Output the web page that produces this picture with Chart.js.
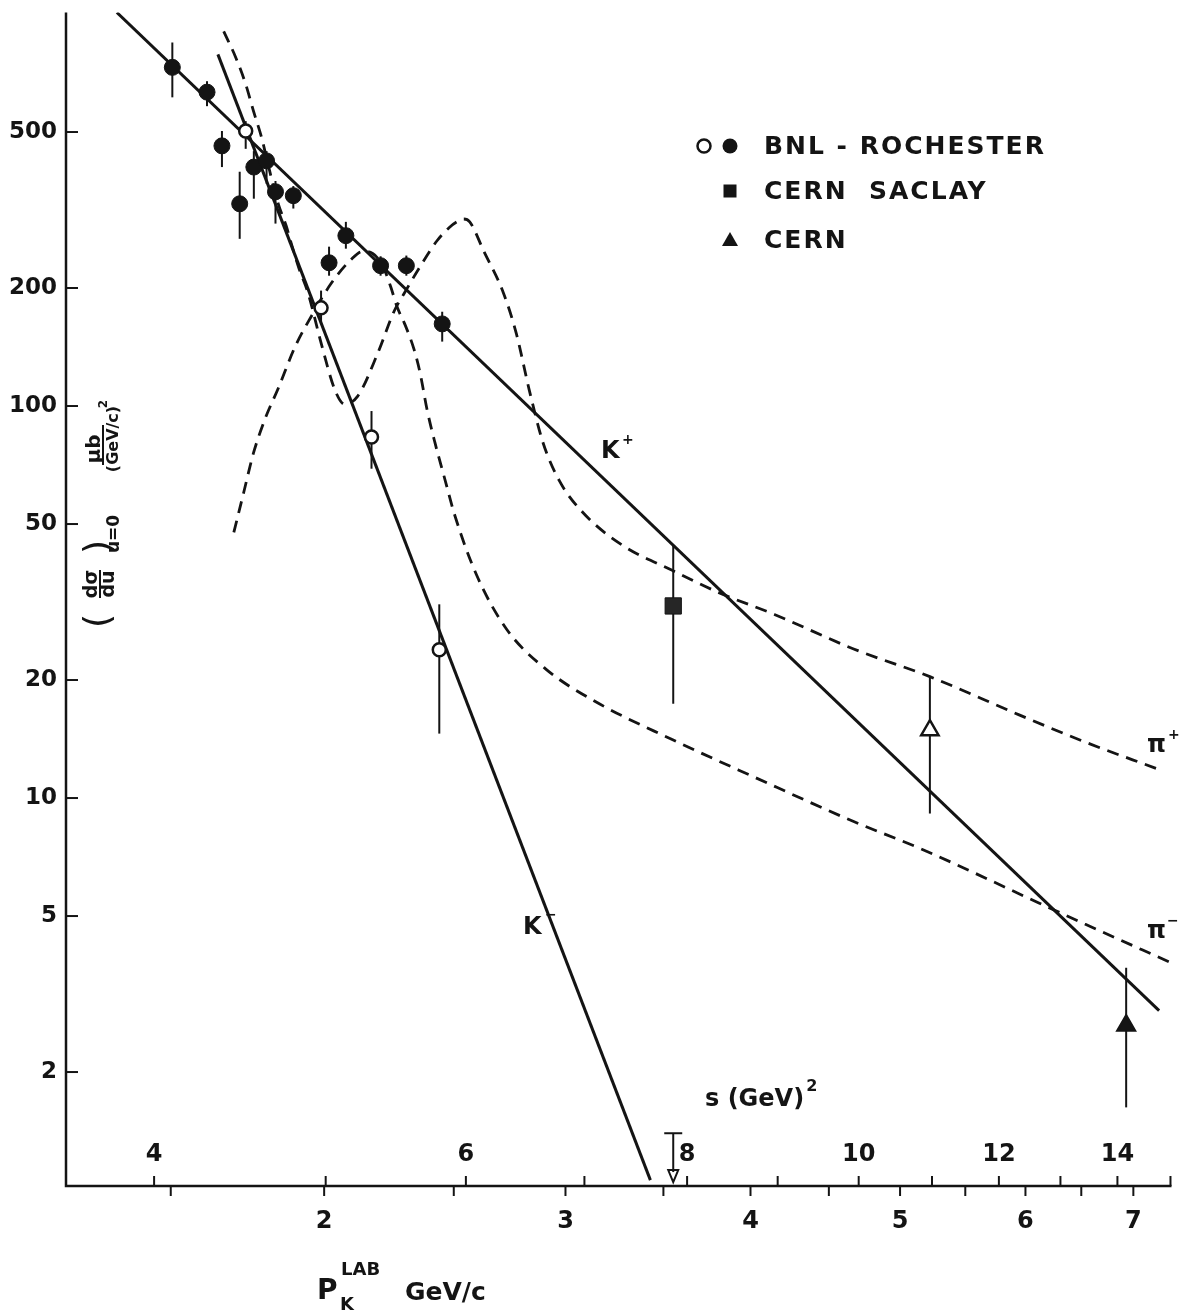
<!DOCTYPE html>
<html>
<head>
<meta charset="utf-8">
<script src="https://cdn.jsdelivr.net/npm/chart.js@4.4.1/dist/chart.umd.min.js"></script>
<style>
html,body{margin:0;padding:0;background:#fff;}
#wrap{width:1184px;height:1314px;position:relative;}
canvas{display:block;}
</style>
</head>
<body>
<div id="wrap"><canvas id="c" width="1184" height="1314"></canvas></div>
<script>
// ---------- values (x in s = (GeV)^2, y in microbarn/(GeV/c)^2) ----------
const kPlusLineS  = [3.811, 14.78];
const kPlusLineV  = [1009, 2.87];
const kMinusLineS = [4.346, 7.627];
const kMinusLineV = [789, 1.06];

const piPlusS = [4.379,4.448,4.506,4.552,4.599,4.653,4.701,4.750,4.781,4.830,4.887,4.970,5.060,5.126,5.213,5.349,5.467,5.538,5.654,5.779,5.870,5.930,5.984,6.030,6.140,6.301,6.407,6.515,6.634,6.775,6.986,7.357,7.846,8.327,8.962,9.935,10.97,12.32,13.42,14.72];
const piPlusV = [903,775,662,565,486,391,328,288,260,224,194,145,110,101,106,136,175,194,227,264,285,295,300,295,249,194,153,110,80.5,64.5,53.5,44.1,38.1,33.5,29.4,24.0,20.4,16.3,13.9,11.9];

const piMinusS = [4.437,4.494,4.552,4.623,4.701,4.806,4.906,5.034,5.166,5.247,5.315,5.384,5.440,5.489,5.538,5.610,5.654,5.705,5.764,5.831,5.915,6.085,6.325,6.660,7.104,7.846,8.733,9.935,10.83,12.64,13.42,15.01];
const piMinusV = [47.6,60.1,75.9,93.2,111,142,169,205,236,248,245,228,202,178,163,139,121,97.7,80.5,66.4,52.5,37.0,27.0,21.3,17.6,14.1,11.3,8.71,7.44,5.40,4.77,3.80];

const bnlFilledS  = [4.096,4.285,4.369,4.471,4.554,4.630,4.684,4.794,5.022,5.133,5.370,5.553,5.818];
const bnlFilledV  = [731,632,461,328,407,422,352,344,232,272,228,228,162];
const bnlFilledLo = [613,582,407,267,338,369,292,319,215,252,215,215,146];
const bnlFilledHi = [846,674,503,396,447,447,375,364,255,295,241,242,174];

const bnlOpenS  = [4.506,4.970,5.307,5.796];
const bnlOpenV  = [503,178,83.4,23.9];
const bnlOpenLo = [453,164,69.2,14.6];
const bnlOpenHi = [533,197,97.1,31.2];

const saclayS  = [7.857];
const saclayV  = [30.9];
const saclayLo = [17.4];
const saclayHi = [44.1];

const cernS  = [10.97,14.16];
const cernV  = [14.9,2.63];
const cernLo = [9.13,1.625];
const cernHi = [20.4,3.69];

const limitS = [7.857];      // downward arrow near the axis
const limitTop = [1.396];
const limitTip = [1.048];

const yTickValues  = [2,5,10,20,50,100,200,500];
const pTickValues  = [1.5,2,2.5,3,3.5,4,4.5,5,5.5,6,6.5,7];
const pTickLabels  = [2,3,4,5,6,7];
const sTickValues  = [4,5,6,7,8,9,10,11,12,13,14,15];
const sTickLabels  = [4,6,8,10,12,14];

const legendLabels = ['BNL - ROCHESTER','CERN  SACLAY','CERN'];

// kinematics: s as a function of kaon lab momentum (K p)
const mK = 0.4937, mP = 0.9383;
const sOfP = p => mK*mK + mP*mP + 2*mP*Math.sqrt(p*p + mK*mK);

const pts = (xs, ys) => xs.map((x,i) => ({x, y: ys[i]}));
const ink = '#141414';
const F = '"DejaVu Sans", sans-serif';

function line(ctx,x1,y1,x2,y2){ctx.beginPath();ctx.moveTo(x1,y1);ctx.lineTo(x2,y2);ctx.stroke();}
function txt(ctx,s,x,y,font,align){ctx.font=font;ctx.textAlign=align||'center';ctx.textBaseline='middle';ctx.fillText(s,x,y);}
function rtxt(ctx,s,x,y,font){ctx.save();ctx.translate(x,y);ctx.rotate(-Math.PI/2);ctx.font=font;ctx.textAlign='center';ctx.textBaseline='middle';ctx.fillText(s,0,0);ctx.restore();}

const deco = {
  id:'deco',
  beforeDatasetsDraw(chart){
    const {ctx, scales:{x:xs, y:ys}} = chart;
    ctx.save();
    ctx.strokeStyle = ink; ctx.lineWidth = 2;
    const bars = (S,Lo,Hi) => S.forEach((s,i)=>{
      const x = xs.getPixelForValue(s);
      line(ctx,x,ys.getPixelForValue(Lo[i]),x,ys.getPixelForValue(Hi[i]));
    });
    bars(bnlFilledS,bnlFilledLo,bnlFilledHi);
    bars(bnlOpenS,bnlOpenLo,bnlOpenHi);
    bars(saclayS,saclayLo,saclayHi);
    bars(cernS,cernLo,cernHi);
    ctx.restore();
  },
  afterDraw(chart){
    const {ctx, chartArea:a, scales:{x:xs, y:ys}} = chart;
    ctx.save();
    ctx.strokeStyle = ink; ctx.fillStyle = ink;
    // axes
    ctx.lineWidth = 2.5;
    ctx.beginPath(); ctx.moveTo(a.left,a.top); ctx.lineTo(a.left,a.bottom); ctx.lineTo(a.right,a.bottom); ctx.stroke();
    ctx.lineWidth = 2;
    yTickValues.forEach(v=>{
      const y = ys.getPixelForValue(v);
      line(ctx,a.left,y,a.left+12,y);
      txt(ctx,String(v),a.left-9,y,'bold 23px '+F,'right');
    });
    pTickValues.forEach(p=>{
      const x = xs.getPixelForValue(sOfP(p));
      line(ctx,x,a.bottom,x,a.bottom+10);
    });
    pTickLabels.forEach(p=>{
      const x = xs.getPixelForValue(sOfP(p));
      txt(ctx,String(p),x,a.bottom+36,'bold 24px '+F);
    });
    sTickValues.forEach(s=>{
      const x = xs.getPixelForValue(s);
      line(ctx,x,a.bottom,x,a.bottom-10);
    });
    sTickLabels.forEach(s=>{
      const x = xs.getPixelForValue(s);
      txt(ctx,String(s),x,a.bottom-31,'bold 24px '+F);
    });
    // s axis title
    txt(ctx,'s (GeV)',705,1100,'bold 24px '+F,'left');
    ctx.font='bold 24px '+F;
    const w = ctx.measureText('s (GeV)').width;
    txt(ctx,'2',705+w+2,1087,'bold 16px '+F,'left');
    // limit arrow
    limitS.forEach((s,i)=>{
      const x = xs.getPixelForValue(s);
      const yt = ys.getPixelForValue(limitTop[i]);
      const yb = ys.getPixelForValue(limitTip[i]);
      line(ctx,x-9,yt,x+9,yt);
      line(ctx,x,yt,x,yb-10);
      ctx.beginPath(); ctx.moveTo(x-5,yb-12); ctx.lineTo(x+5,yb-12); ctx.lineTo(x,yb); ctx.closePath(); ctx.stroke();
    });
    // x title
    txt(ctx,'P',317,1292,'bold 28px '+F,'left');
    txt(ctx,'LAB',341,1270,'bold 18px '+F,'left');
    txt(ctx,'K',340,1305,'bold 18px '+F,'left');
    txt(ctx,'GeV/c',405,1293,'bold 25px '+F,'left');
    // y title (rotated)
    rtxt(ctx,'(',100,621,'36px '+F);
    rtxt(ctx,'dσ',92,584,'bold 19px '+F);
    rtxt(ctx,'du',109,584,'bold 19px '+F);
    ctx.lineWidth = 2; line(ctx,100,570,100,598);
    rtxt(ctx,')',100,547,'36px '+F);
    rtxt(ctx,'u=0',115,534,'bold 17px '+F);
    rtxt(ctx,'μb',95,449,'bold 20px '+F);
    line(ctx,103,425,103,465);
    rtxt(ctx,'(GeV/c)',114,439,'bold 16px '+F);
    rtxt(ctx,'2',104,404,'bold 12px '+F);
    // curve labels
    txt(ctx,'K',601,452,'bold 24px '+F,'left');
    txt(ctx,'+',622,440,'bold 14px '+F,'left');
    txt(ctx,'K',523,928,'bold 24px '+F,'left');
    txt(ctx,'−',545,915,'bold 14px '+F,'left');
    txt(ctx,'π',1147,746,'bold 24px '+F,'left');
    txt(ctx,'+',1168,735,'bold 14px '+F,'left');
    txt(ctx,'π',1147,932,'bold 24px '+F,'left');
    txt(ctx,'−',1167,921,'bold 14px '+F,'left');
    // legend
    const rows = [146,191,240];
    ctx.lineWidth = 2.5;
    ctx.beginPath(); ctx.arc(704,rows[0],6.5,0,Math.PI*2); ctx.stroke();
    ctx.beginPath(); ctx.arc(730,rows[0],7.5,0,Math.PI*2); ctx.fill();
    ctx.fillRect(723.5,rows[1]-6.5,13,13);
    ctx.beginPath(); ctx.moveTo(730,rows[2]-8); ctx.lineTo(738,rows[2]+6); ctx.lineTo(722,rows[2]+6); ctx.closePath(); ctx.fill();
    try{ ctx.letterSpacing='2px'; }catch(e){}
    legendLabels.forEach((l,i)=>txt(ctx,l,764,rows[i]+1,'bold 25px '+F,'left'));
    ctx.restore();
  }
};

const dashed = {borderColor:ink,borderWidth:2.8,borderDash:[12,8],pointRadius:0,fill:false,cubicInterpolationMode:'monotone',showLine:true};
const solid  = {borderColor:ink,borderWidth:3,pointRadius:0,fill:false,showLine:true,tension:0};

new Chart(document.getElementById('c'),{
  type:'line',
  data:{datasets:[
    {label:'BNL-Rochester (filled)',data:pts(bnlFilledS,bnlFilledV),showLine:false,pointStyle:'circle',pointRadius:8,pointBackgroundColor:ink,pointBorderColor:ink,pointBorderWidth:1},
    {label:'BNL-Rochester (open)',data:pts(bnlOpenS,bnlOpenV),showLine:false,pointStyle:'circle',pointRadius:6.5,pointBackgroundColor:'#fff',pointBorderColor:ink,pointBorderWidth:2.5},
    {label:'CERN Saclay',data:pts(saclayS,saclayV),showLine:false,pointStyle:'rect',pointRadius:11.5,pointBackgroundColor:'#262626',pointBorderColor:ink,pointBorderWidth:1},
    {label:'CERN',data:pts(cernS,cernV),showLine:false,pointStyle:'triangle',pointRadius:10,pointBackgroundColor:['#fff',ink],pointBorderColor:ink,pointBorderWidth:2.5},
    Object.assign({label:'K+',data:pts(kPlusLineS,kPlusLineV)},solid),
    Object.assign({label:'K-',data:pts(kMinusLineS,kMinusLineV)},solid),
    Object.assign({label:'pi+',data:pts(piPlusS,piPlusV)},dashed),
    Object.assign({label:'pi-',data:pts(piMinusS,piMinusV)},dashed)
  ]},
  options:{
    responsive:false, animation:false, devicePixelRatio:1, events:[],
    layout:{padding:{left:66,right:4,top:8,bottom:128}},
    plugins:{legend:{display:false},tooltip:{enabled:false}},
    scales:{
      x:{type:'logarithmic',min:3.567,max:15.02,display:false},
      y:{type:'logarithmic',min:1.024,max:1009,display:false}
    }
  },
  plugins:[deco]
});
</script>
</body>
</html>
